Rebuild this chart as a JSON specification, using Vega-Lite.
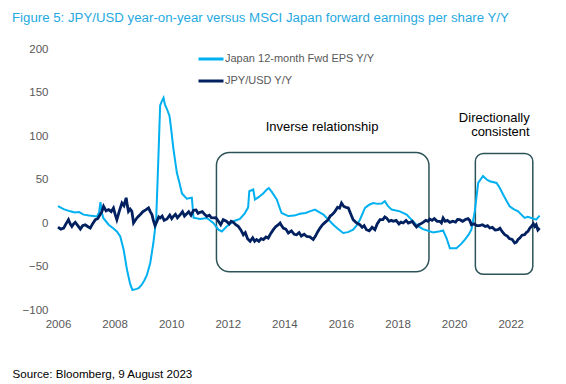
{
  "$schema": "https://vega.github.io/schema/vega-lite/v6.json",
  "width": 498,
  "height": 261,
  "autosize": {"type": "none"},
  "padding": {"left": 58, "top": 49, "right": 10, "bottom": 74},
  "background": "white",
  "config": {
    "view": {"stroke": null},
    "font": "Liberation Sans"
  },
  "title": {
    "text": "Figure 5: JPY/USD year-on-year versus MSCI Japan forward earnings per share Y/Y",
    "anchor": "start",
    "frame": "group",
    "dx": -46,
    "offset": 18,
    "fontSize": 13.25,
    "fontWeight": "normal",
    "font": "Liberation Sans",
    "color": "#1fa9e1"
  },
  "datasets": {
    "eps": [
      {"t": 2006.0, "v": 19.5}, {"t": 2006.2, "v": 16}, {"t": 2006.43, "v": 13.4}, {"t": 2006.6, "v": 12},
      {"t": 2006.75, "v": 12.5}, {"t": 2006.9, "v": 9.6}, {"t": 2007.1, "v": 8.5}, {"t": 2007.38, "v": 7.6},
      {"t": 2007.45, "v": 12}, {"t": 2007.5, "v": 24}, {"t": 2007.55, "v": 12}, {"t": 2007.6, "v": 5.8},
      {"t": 2007.79, "v": -2}, {"t": 2007.95, "v": -6}, {"t": 2008.08, "v": -9.7}, {"t": 2008.2, "v": -15.5},
      {"t": 2008.32, "v": -30.8}, {"t": 2008.44, "v": -54}, {"t": 2008.55, "v": -70}, {"t": 2008.63, "v": -77},
      {"t": 2008.75, "v": -76}, {"t": 2008.85, "v": -75}, {"t": 2008.96, "v": -71}, {"t": 2009.05, "v": -66},
      {"t": 2009.14, "v": -60}, {"t": 2009.26, "v": -46}, {"t": 2009.37, "v": -23}, {"t": 2009.47, "v": 4},
      {"t": 2009.55, "v": 77}, {"t": 2009.61, "v": 135}, {"t": 2009.67, "v": 140}, {"t": 2009.73, "v": 144},
      {"t": 2009.78, "v": 136}, {"t": 2009.85, "v": 131}, {"t": 2009.94, "v": 123}, {"t": 2010.0, "v": 108},
      {"t": 2010.08, "v": 85}, {"t": 2010.2, "v": 58}, {"t": 2010.3, "v": 45}, {"t": 2010.38, "v": 34},
      {"t": 2010.55, "v": 28}, {"t": 2010.73, "v": 29}, {"t": 2010.79, "v": 6}, {"t": 2011.02, "v": 4.6},
      {"t": 2011.26, "v": 5.8}, {"t": 2011.49, "v": 0}, {"t": 2011.67, "v": -7.7}, {"t": 2011.79, "v": -9.7},
      {"t": 2011.96, "v": -4}, {"t": 2012.2, "v": 2}, {"t": 2012.43, "v": 4.6}, {"t": 2012.6, "v": 11},
      {"t": 2012.72, "v": 18}, {"t": 2012.76, "v": 36.5}, {"t": 2012.9, "v": 38.5}, {"t": 2012.96, "v": 27},
      {"t": 2013.1, "v": 30}, {"t": 2013.25, "v": 34}, {"t": 2013.38, "v": 38.5}, {"t": 2013.45, "v": 40},
      {"t": 2013.55, "v": 36}, {"t": 2013.73, "v": 27}, {"t": 2013.9, "v": 11.5}, {"t": 2014.14, "v": 8},
      {"t": 2014.35, "v": 8.5}, {"t": 2014.55, "v": 10.7}, {"t": 2014.75, "v": 11.5}, {"t": 2014.9, "v": 13.4},
      {"t": 2015.08, "v": 15.4}, {"t": 2015.2, "v": 13}, {"t": 2015.38, "v": 9.6}, {"t": 2015.55, "v": 4},
      {"t": 2015.73, "v": -2}, {"t": 2015.9, "v": -7}, {"t": 2016.08, "v": -11.5}, {"t": 2016.25, "v": -10.5},
      {"t": 2016.43, "v": -7.7}, {"t": 2016.55, "v": -3}, {"t": 2016.67, "v": 3.8}, {"t": 2016.85, "v": 17.3},
      {"t": 2017.0, "v": 21}, {"t": 2017.14, "v": 23}, {"t": 2017.3, "v": 22}, {"t": 2017.44, "v": 22.3},
      {"t": 2017.55, "v": 25}, {"t": 2017.65, "v": 20}, {"t": 2017.79, "v": 15.4}, {"t": 2018.08, "v": 13.4},
      {"t": 2018.32, "v": 9.6}, {"t": 2018.55, "v": 1.9}, {"t": 2018.7, "v": -3}, {"t": 2018.9, "v": -7},
      {"t": 2019.26, "v": -10.8}, {"t": 2019.5, "v": -9.5}, {"t": 2019.61, "v": -8.5}, {"t": 2019.73, "v": -17.3},
      {"t": 2019.85, "v": -29}, {"t": 2020.08, "v": -29}, {"t": 2020.25, "v": -24}, {"t": 2020.38, "v": -19},
      {"t": 2020.5, "v": -14}, {"t": 2020.61, "v": -7.7}, {"t": 2020.73, "v": 13.4}, {"t": 2020.85, "v": 46},
      {"t": 2021.02, "v": 54}, {"t": 2021.15, "v": 50}, {"t": 2021.26, "v": 48}, {"t": 2021.5, "v": 46},
      {"t": 2021.62, "v": 40}, {"t": 2021.73, "v": 32.7}, {"t": 2021.96, "v": 19.2}, {"t": 2022.1, "v": 16},
      {"t": 2022.26, "v": 13.4}, {"t": 2022.49, "v": 5.8}, {"t": 2022.6, "v": 7}, {"t": 2022.73, "v": 5.8},
      {"t": 2022.9, "v": 3.8}, {"t": 2023.02, "v": 8.4}
    ],
    "fx": [
      {"t": 2006.0, "v": -4.6}, {"t": 2006.1, "v": -7}, {"t": 2006.2, "v": -5.8}, {"t": 2006.28, "v": -1},
      {"t": 2006.37, "v": 3.8}, {"t": 2006.43, "v": -1}, {"t": 2006.49, "v": -3.9}, {"t": 2006.55, "v": -1},
      {"t": 2006.61, "v": 0.7}, {"t": 2006.7, "v": -3}, {"t": 2006.79, "v": -6.9}, {"t": 2006.87, "v": -3},
      {"t": 2006.96, "v": -2}, {"t": 2007.05, "v": -4}, {"t": 2007.14, "v": -5.8}, {"t": 2007.22, "v": -1},
      {"t": 2007.32, "v": 3.8}, {"t": 2007.4, "v": 5}, {"t": 2007.49, "v": 9.6}, {"t": 2007.55, "v": 13},
      {"t": 2007.61, "v": 19.2}, {"t": 2007.7, "v": 14}, {"t": 2007.79, "v": 15.4}, {"t": 2007.88, "v": 13},
      {"t": 2007.96, "v": 17.3}, {"t": 2008.02, "v": 10}, {"t": 2008.08, "v": 3.8}, {"t": 2008.17, "v": 14},
      {"t": 2008.26, "v": 23}, {"t": 2008.33, "v": 20}, {"t": 2008.41, "v": 29}, {"t": 2008.45, "v": 20},
      {"t": 2008.49, "v": 13.4}, {"t": 2008.55, "v": 16}, {"t": 2008.61, "v": 13.4}, {"t": 2008.67, "v": 0},
      {"t": 2008.75, "v": 4}, {"t": 2008.82, "v": 7}, {"t": 2008.9, "v": 9.6}, {"t": 2009.0, "v": 13},
      {"t": 2009.1, "v": 15}, {"t": 2009.2, "v": 17.3}, {"t": 2009.26, "v": 13}, {"t": 2009.32, "v": 9.6},
      {"t": 2009.38, "v": 2}, {"t": 2009.43, "v": -3}, {"t": 2009.5, "v": 2}, {"t": 2009.56, "v": 7},
      {"t": 2009.61, "v": 5.8}, {"t": 2009.68, "v": 8}, {"t": 2009.75, "v": 3}, {"t": 2009.85, "v": 4.6},
      {"t": 2009.95, "v": 9}, {"t": 2010.02, "v": 5}, {"t": 2010.08, "v": 7.7}, {"t": 2010.15, "v": 10},
      {"t": 2010.22, "v": 6}, {"t": 2010.32, "v": 9.6}, {"t": 2010.4, "v": 13}, {"t": 2010.47, "v": 8},
      {"t": 2010.55, "v": 10.7}, {"t": 2010.62, "v": 13}, {"t": 2010.7, "v": 9}, {"t": 2010.79, "v": 14.6},
      {"t": 2010.88, "v": 15}, {"t": 2010.95, "v": 11}, {"t": 2011.02, "v": 12.3}, {"t": 2011.1, "v": 13},
      {"t": 2011.18, "v": 10}, {"t": 2011.26, "v": 7.7}, {"t": 2011.35, "v": 9}, {"t": 2011.42, "v": 6},
      {"t": 2011.49, "v": 5.8}, {"t": 2011.58, "v": 6}, {"t": 2011.67, "v": 1.9}, {"t": 2011.75, "v": -2},
      {"t": 2011.84, "v": 3.8}, {"t": 2011.95, "v": 2}, {"t": 2012.05, "v": -1}, {"t": 2012.12, "v": 2},
      {"t": 2012.2, "v": 0.7}, {"t": 2012.28, "v": -2}, {"t": 2012.37, "v": -3.9}, {"t": 2012.46, "v": -8},
      {"t": 2012.55, "v": -13.5}, {"t": 2012.62, "v": -11}, {"t": 2012.7, "v": -18}, {"t": 2012.79, "v": -21},
      {"t": 2012.88, "v": -17}, {"t": 2012.95, "v": -21}, {"t": 2013.02, "v": -19}, {"t": 2013.1, "v": -21},
      {"t": 2013.18, "v": -18}, {"t": 2013.26, "v": -19}, {"t": 2013.35, "v": -16}, {"t": 2013.43, "v": -17.3},
      {"t": 2013.52, "v": -12}, {"t": 2013.61, "v": -7.7}, {"t": 2013.7, "v": -4}, {"t": 2013.79, "v": -2},
      {"t": 2013.85, "v": 0}, {"t": 2013.9, "v": -3}, {"t": 2013.96, "v": -5.8}, {"t": 2014.05, "v": -7},
      {"t": 2014.14, "v": -11.5}, {"t": 2014.25, "v": -9}, {"t": 2014.35, "v": -13}, {"t": 2014.43, "v": -13.5},
      {"t": 2014.52, "v": -11}, {"t": 2014.6, "v": -15}, {"t": 2014.7, "v": -13}, {"t": 2014.79, "v": -15.5},
      {"t": 2014.9, "v": -16}, {"t": 2015.02, "v": -19}, {"t": 2015.1, "v": -15}, {"t": 2015.18, "v": -10},
      {"t": 2015.26, "v": -5.8}, {"t": 2015.35, "v": -2}, {"t": 2015.45, "v": 1}, {"t": 2015.55, "v": 3.8},
      {"t": 2015.62, "v": 8}, {"t": 2015.7, "v": 10}, {"t": 2015.79, "v": 13.4}, {"t": 2015.88, "v": 18},
      {"t": 2015.95, "v": 17}, {"t": 2016.02, "v": 23}, {"t": 2016.1, "v": 19}, {"t": 2016.18, "v": 18},
      {"t": 2016.26, "v": 17.3}, {"t": 2016.35, "v": 10}, {"t": 2016.43, "v": 3.8}, {"t": 2016.52, "v": 1},
      {"t": 2016.6, "v": -1}, {"t": 2016.67, "v": -2}, {"t": 2016.75, "v": -5}, {"t": 2016.82, "v": -3},
      {"t": 2016.9, "v": -7.7}, {"t": 2017.0, "v": -9}, {"t": 2017.1, "v": -5}, {"t": 2017.2, "v": -7.7},
      {"t": 2017.28, "v": -1}, {"t": 2017.38, "v": 3.8}, {"t": 2017.48, "v": 4}, {"t": 2017.55, "v": 7},
      {"t": 2017.61, "v": 5.8}, {"t": 2017.7, "v": 2}, {"t": 2017.78, "v": 3}, {"t": 2017.85, "v": 1.9},
      {"t": 2017.95, "v": 3}, {"t": 2018.05, "v": -1}, {"t": 2018.12, "v": 1}, {"t": 2018.2, "v": 0},
      {"t": 2018.3, "v": 3}, {"t": 2018.38, "v": 0}, {"t": 2018.44, "v": 0.7}, {"t": 2018.52, "v": 2},
      {"t": 2018.6, "v": -2}, {"t": 2018.67, "v": -4.6}, {"t": 2018.75, "v": -2}, {"t": 2018.82, "v": -1},
      {"t": 2018.9, "v": 0.7}, {"t": 2019.0, "v": 3}, {"t": 2019.08, "v": 2}, {"t": 2019.14, "v": 4.6},
      {"t": 2019.22, "v": 3}, {"t": 2019.3, "v": 5}, {"t": 2019.4, "v": 2}, {"t": 2019.49, "v": 1.9},
      {"t": 2019.55, "v": 0}, {"t": 2019.61, "v": 5.8}, {"t": 2019.68, "v": 2}, {"t": 2019.76, "v": 3},
      {"t": 2019.85, "v": 0.7}, {"t": 2019.95, "v": 2}, {"t": 2020.05, "v": 1}, {"t": 2020.12, "v": 4},
      {"t": 2020.2, "v": 3.8}, {"t": 2020.3, "v": 2}, {"t": 2020.4, "v": 4}, {"t": 2020.49, "v": 5},
      {"t": 2020.55, "v": 3}, {"t": 2020.61, "v": -2}, {"t": 2020.7, "v": -1}, {"t": 2020.8, "v": -3},
      {"t": 2020.9, "v": -3}, {"t": 2021.0, "v": -2}, {"t": 2021.1, "v": -4}, {"t": 2021.18, "v": -3},
      {"t": 2021.26, "v": -5.8}, {"t": 2021.35, "v": -5}, {"t": 2021.45, "v": -8}, {"t": 2021.55, "v": -7.7},
      {"t": 2021.62, "v": -6}, {"t": 2021.7, "v": -10}, {"t": 2021.79, "v": -13.5}, {"t": 2021.88, "v": -15},
      {"t": 2021.95, "v": -18}, {"t": 2022.05, "v": -19}, {"t": 2022.14, "v": -23}, {"t": 2022.2, "v": -22},
      {"t": 2022.26, "v": -19}, {"t": 2022.32, "v": -17.3}, {"t": 2022.4, "v": -14}, {"t": 2022.49, "v": -13.5},
      {"t": 2022.55, "v": -11}, {"t": 2022.61, "v": -9.6}, {"t": 2022.67, "v": -6}, {"t": 2022.73, "v": -3.9},
      {"t": 2022.8, "v": -1}, {"t": 2022.85, "v": -4}, {"t": 2022.9, "v": -2}, {"t": 2022.96, "v": -8},
      {"t": 2023.02, "v": -5.8}
    ]
  },
  "encoding": {
    "x": {
      "type": "quantitative",
      "scale": {"domain": [2006, 2023.6], "nice": false, "zero": false},
      "axis": {
        "values": [2006, 2008, 2010, 2012, 2014, 2016, 2018, 2020, 2022],
        "format": "d",
        "grid": false, "domain": false, "ticks": false, "labelFlush": false,
        "labelPadding": 8, "labelFontSize": 11.5, "labelColor": "#595959", "labelFont": "Liberation Sans",
        "title": "Source: Bloomberg, 9 August 2023",
        "titleFont": "Liberation Sans", "titleFontSize": 11.6, "titleFontWeight": "normal", "titleColor": "#000000",
        "titleAnchor": "start", "titleAlign": "left", "titleBaseline": "middle",
        "titleX": -46, "titleY": 64
      }
    },
    "y": {
      "type": "quantitative",
      "scale": {"domain": [-100, 200], "nice": false},
      "axis": {
        "values": [-100, -50, 0, 50, 100, 150, 200],
        "grid": false, "domain": false, "ticks": false, "labelFlush": false,
        "labelPadding": 10, "labelFontSize": 11.5, "labelColor": "#595959", "labelFont": "Liberation Sans",
        "title": null
      }
    }
  },
  "layer": [
    {
      "mark": {"type": "rule", "color": "#dadada", "strokeWidth": 1.5},
      "encoding": {"y": {"datum": 0}, "x": null}
    },
    {
      "data": {"values": [{"x1": 2011.6, "x2": 2019.11, "y1": 81, "y2": -56}]},
      "mark": {"type": "rect", "fill": null, "fillOpacity": 0, "stroke": "#2c5358", "strokeWidth": 1.5, "cornerRadius": 13},
      "encoding": {
        "x": {"field": "x1", "type": "quantitative"},
        "x2": {"field": "x2"},
        "y": {"field": "y1", "type": "quantitative"},
        "y2": {"field": "y2"}
      }
    },
    {
      "data": {"values": [{"x1": 2020.75, "x2": 2022.78, "y1": 80, "y2": -59}]},
      "mark": {"type": "rect", "fill": null, "fillOpacity": 0, "stroke": "#2c5358", "strokeWidth": 1.5, "cornerRadius": 8},
      "encoding": {
        "x": {"field": "x1", "type": "quantitative"},
        "x2": {"field": "x2"},
        "y": {"field": "y1", "type": "quantitative"},
        "y2": {"field": "y2"}
      }
    },
    {
      "data": {"name": "eps"},
      "mark": {"type": "line", "strokeWidth": 2, "interpolate": "linear"},
      "encoding": {
        "x": {"field": "t", "type": "quantitative"},
        "y": {"field": "v", "type": "quantitative"},
        "color": {
          "datum": "Japan 12-month Fwd EPS Y/Y",
          "scale": {"domain": ["Japan 12-month Fwd EPS Y/Y", "JPY/USD Y/Y"], "range": ["#00b0f0", "#002060"]},
          "legend": {
            "title": null, "orient": "none", "legendX": 139, "legendY": -4,
            "symbolType": "stroke", "symbolSize": 625, "symbolStrokeWidth": 3,
            "labelFont": "Liberation Sans", "labelFontSize": 11, "labelColor": "#595959",
            "labelOffset": 0, "rowPadding": 2
          }
        }
      }
    },
    {
      "data": {"name": "fx"},
      "mark": {"type": "line", "strokeWidth": 2.8, "interpolate": "linear"},
      "encoding": {
        "x": {"field": "t", "type": "quantitative"},
        "y": {"field": "v", "type": "quantitative"},
        "color": {"datum": "JPY/USD Y/Y"}
      }
    },
    {
      "data": {"values": [{"t": 2015.33, "v": 110, "label": "Inverse relationship"}]},
      "mark": {"type": "text", "align": "center", "baseline": "middle", "fontSize": 13, "font": "Liberation Sans", "color": "#000000"},
      "encoding": {
        "x": {"field": "t", "type": "quantitative"},
        "y": {"field": "v", "type": "quantitative"},
        "text": {"field": "label"}
      }
    },
    {
      "data": {"values": [{"t": 2022.67, "v": 121.2, "label": "Directionally"}, {"t": 2022.67, "v": 105, "label": "consistent"}]},
      "mark": {"type": "text", "align": "right", "baseline": "middle", "fontSize": 13, "font": "Liberation Sans", "color": "#000000"},
      "encoding": {
        "x": {"field": "t", "type": "quantitative"},
        "y": {"field": "v", "type": "quantitative"},
        "text": {"field": "label"}
      }
    }
  ]
}
